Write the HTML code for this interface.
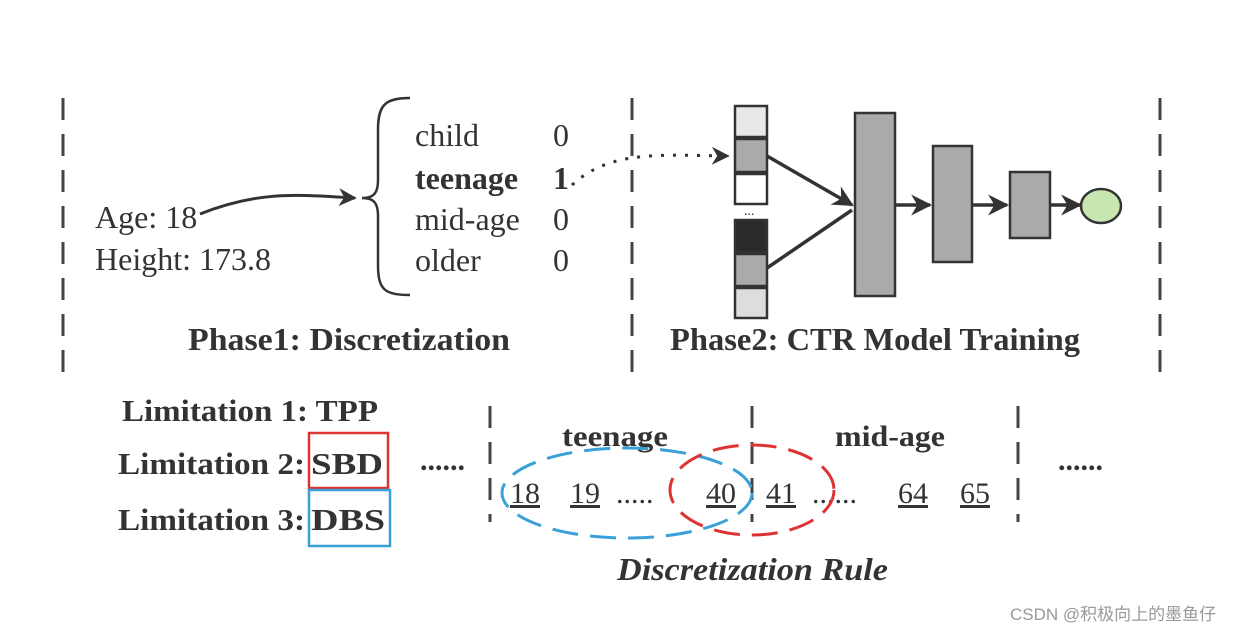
<!DOCTYPE html>
<html><head><meta charset="utf-8"><style>html,body{margin:0;padding:0;background:#fff}svg{display:block}</style></head><body>
<svg width="1260" height="630" viewBox="0 0 1260 630" xmlns="http://www.w3.org/2000/svg" font-family="'Liberation Serif',serif" fill="#333">
<defs><marker id="ah" viewBox="0 0 10 10" refX="9" refY="5" markerWidth="6" markerHeight="6" orient="auto"><path d="M0,0 L10,5 L0,10 L3,5z" fill="#333"/></marker></defs>
<g stroke="#444" stroke-width="3" stroke-dasharray="22,14">
<line x1="63" y1="98" x2="63" y2="372"/><line x1="632" y1="98" x2="632" y2="372"/><line x1="1160" y1="98" x2="1160" y2="372"/>
<line x1="490" y1="406" x2="490" y2="522"/><line x1="752" y1="406" x2="752" y2="522"/><line x1="1018" y1="406" x2="1018" y2="522"/>
</g>
<g font-size="32">
<text x="95" y="228">Age: 18</text><text x="95" y="270">Height: 173.8</text>
</g>
<g font-size="32">
<text x="415" y="146">child</text><text x="415" y="189" font-weight="bold">teenage</text><text x="415" y="230">mid-age</text><text x="415" y="271">older</text>
<text x="553" y="146">0</text><text x="553" y="189" font-weight="bold">1</text><text x="553" y="230">0</text><text x="553" y="271">0</text>
</g>
<path d="M200,214 C260,190 300,195 355,198" stroke="#333" stroke-width="3" fill="none" marker-end="url(#ah)"/>
<path d="M410,98 C385,98 378,105 378,130 L378,180 C378,195 372,198 362,198 C372,198 378,201 378,216 L378,265 C378,290 385,295 410,295" stroke="#333" stroke-width="2.5" fill="none"/>
<path d="M572,185 C610,150 660,155 728,156" stroke="#333" stroke-width="3" stroke-dasharray="3,9" fill="none" marker-end="url(#ah)"/>
<g font-size="32" font-weight="bold"><text x="188" y="350" textLength="322" lengthAdjust="spacingAndGlyphs">Phase1: Discretization</text><text x="670" y="350" textLength="410" lengthAdjust="spacingAndGlyphs">Phase2: CTR Model Training</text></g>
<g stroke="#333" stroke-width="2.5">
<rect x="735" y="106" width="32" height="31" fill="#e8e8e8"/><rect x="735" y="139" width="32" height="33" fill="#aaa"/><rect x="735" y="174" width="32" height="30" fill="#fff"/>
<rect x="735" y="220" width="32" height="32" fill="#2a2a2a"/><rect x="735" y="254" width="32" height="32" fill="#aaa"/><rect x="735" y="288" width="32" height="30" fill="#ddd"/>
<line x1="767" y1="156" x2="852" y2="205" stroke-width="3.5" marker-end="url(#ah)"/><line x1="767" y1="268" x2="852" y2="210" stroke-width="3.5"/>
<rect x="855" y="113" width="40" height="183" fill="#aaa"/><rect x="933" y="146" width="39" height="116" fill="#aaa"/><rect x="1010" y="172" width="40" height="66" fill="#aaa"/>
<line x1="895" y1="205" x2="930" y2="205" stroke-width="3.5" marker-end="url(#ah)"/><line x1="972" y1="205" x2="1007" y2="205" stroke-width="3.5" marker-end="url(#ah)"/><line x1="1050" y1="205" x2="1080" y2="205" stroke-width="3.5" marker-end="url(#ah)"/>
<ellipse cx="1101" cy="206" rx="20" ry="17" fill="#c8e6b0"/>
</g>
<text x="744" y="215" font-size="14">...</text>
<g font-size="31" font-weight="bold"><text x="122" y="421" textLength="256" lengthAdjust="spacingAndGlyphs">Limitation 1: TPP</text>
<text x="118" y="474" textLength="187" lengthAdjust="spacingAndGlyphs">Limitation 2:</text><text x="118" y="530" textLength="187" lengthAdjust="spacingAndGlyphs">Limitation 3:</text>
<text x="311" y="474" textLength="72" lengthAdjust="spacingAndGlyphs">SBD</text><text x="311" y="530" textLength="74" lengthAdjust="spacingAndGlyphs">DBS</text></g>
<rect x="309" y="433" width="79" height="55" fill="none" stroke="#d33" stroke-width="2.5"/>
<rect x="309" y="490" width="81" height="56" fill="none" stroke="#3aa0d8" stroke-width="2.5"/>
<g font-size="30" font-weight="bold"><text x="420" y="470">......</text><text x="1058" y="470">......</text><text x="562" y="446" textLength="106" lengthAdjust="spacingAndGlyphs">teenage</text><text x="835" y="446" textLength="110" lengthAdjust="spacingAndGlyphs">mid-age</text></g>
<g font-size="30" text-decoration="underline"><text x="510" y="503">18</text><text x="570" y="503">19</text><text x="706" y="503">40</text><text x="766" y="503">41</text><text x="898" y="503">64</text><text x="960" y="503">65</text></g>
<g font-size="30"><text x="616" y="503">.....</text><text x="812" y="503">......</text></g>
<g fill="none" stroke-width="3" stroke-dasharray="26,12"><ellipse cx="627" cy="493" rx="125" ry="45" stroke="#3aa0d8"/><ellipse cx="752" cy="490" rx="82" ry="45" stroke="#d33"/></g>
<text x="617" y="580" font-size="32" font-weight="bold" font-style="italic" textLength="271" lengthAdjust="spacingAndGlyphs">Discretization Rule</text>
<text x="1010" y="620" font-size="17" fill="#999" font-family="'Liberation Sans','Noto Sans CJK SC',sans-serif">CSDN @积极向上的墨鱼仔</text>
</svg>
</body></html>
